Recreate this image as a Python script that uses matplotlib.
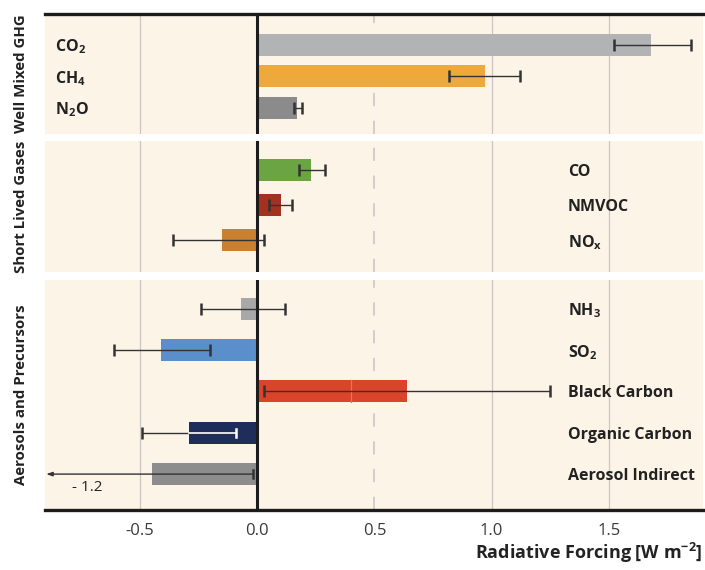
import matplotlib
matplotlib.use('Agg')
import matplotlib.pyplot as plt
import numpy as np

plt.rcParams['font.family'] = ['Open Sans', 'DejaVu Sans']
plt.rcParams['mathtext.fontset'] = 'custom'
plt.rcParams['mathtext.rm'] = 'Open Sans'
plt.rcParams['mathtext.bf'] = 'Open Sans:bold'
plt.rcParams['lines.scale_dashes'] = False

# well mixed greenhouse gases
ghg_names = [r'CO$_\mathbf{2}$', r'CH$_\mathbf{4}$', r'N$_\mathbf{2}$O']
ghg_vals = [1.68, 0.97, 0.17]
ghg_lo = [1.52, 0.82, 0.155]
ghg_hi = [1.85, 1.12, 0.19]
ghg_colors = ['#B2B3B5', '#EDA93C', '#8B8B8B']

# short lived gases
slg_names = ['CO', 'NMVOC', r'NO$_\mathbf{x}$']
slg_vals = [0.23, 0.10, -0.15]
slg_lo = [0.18, 0.05, -0.36]
slg_hi = [0.29, 0.15, 0.03]
slg_colors = ['#6BA443', '#A2311F', '#C98030']

# aerosols and precursors
aer_names = [r'NH$_\mathbf{3}$', r'SO$_\mathbf{2}$', 'Black Carbon', 'Organic Carbon', 'Aerosol Indirect']
aer_vals = [-0.07, -0.41, 0.64, -0.29, -0.45]
aer_lo = [-0.24, -0.61, 0.03, -0.49, -1.2]
aer_hi = [0.12, -0.20, 1.25, -0.09, -0.02]
aer_colors = ['#A8A8A8', '#5B8FCC', '#D9442A', '#1E2D5A', '#8D8D8D']
aer_white_err = [False, False, False, True, False]
bc_split = 0.40

xticks = [-0.5, 0.0, 0.5, 1.0, 1.5]
xticklabels = ['-0.5', '0.0', '0.5', '1.0', '1.5']
xmin, xmax = -0.905, 1.90

W, H = 705, 570
bg = '#FDF4E8'
errc = '#333333'

fig = plt.figure(figsize=(W / 100, H / 100), dpi=100)


def make_axes(top, bottom, c0, step, n):
    ax = fig.add_axes([45 / W, 1 - bottom / H, (702.7 - 45) / W, (bottom - top) / H])
    ax.set_facecolor(bg)
    ax.set_xlim(xmin, xmax)
    ax.set_ylim((bottom - c0) / step, (top - c0) / step)
    for s in ax.spines.values():
        s.set_visible(False)
    ax.tick_params(left=False, labelleft=False, bottom=False, labelbottom=False)
    for x in [-0.5, 1.0, 1.5]:
        ax.axvline(x, color='#CBC6C0', lw=0.9, zorder=1)
    ax.axvline(0.5, color='#D2CDC7', lw=1.4, ls=(0, (9.5, 10.5)), zorder=1)
    ax.axvline(0.0, color='#1C1C1C', lw=2.2, zorder=4)
    return ax, 22.0 / step


def draw_bars(ax, h, vals, lo, hi, colors):
    y = np.arange(len(vals))
    ax.barh(y, vals, height=h, color=colors, zorder=2)
    for yi, v, a, b in zip(y, vals, lo, hi):
        a = max(a, xmin)
        ax.errorbar([v], [yi], xerr=[[v - a], [b - v]], fmt='none', ecolor=errc,
                    elinewidth=1.0, capsize=4, capthick=1.8, zorder=3)
    return y


panel_specs = [
    (14, 134, 44.5, 31.5, ghg_names, ghg_vals, ghg_lo, ghg_hi, ghg_colors, 'Well Mixed GHG'),
    (141, 272, 170.5, 35.0, slg_names, slg_vals, slg_lo, slg_hi, slg_colors, 'Short Lived Gases'),
    (280, 510, 308.5, 41.4, aer_names, aer_vals, aer_lo, aer_hi, aer_colors, 'Aerosols and Precursors'),
]

axes = []
for i, (top, bot, c0, step, names, vals, lo, hi, colors, side) in enumerate(panel_specs):
    ax, h = make_axes(top, bot, c0, step, len(vals))
    axes.append(ax)
    y = np.arange(len(vals))
    if i == 2:
        # Aerosol Indirect: lower bound off the axis, drawn as an arrow
        draw_bars(ax, h, vals[:-1], lo[:-1], hi[:-1], colors[:-1])
        ax.barh(y[-1], vals[-1], height=h, color=colors[-1], zorder=2)
        ax.annotate('', xy=(xmin + 0.005, y[-1]), xytext=(hi[-1], y[-1]),
                    arrowprops=dict(arrowstyle='-|>,head_length=0.35,head_width=0.12',
                                    color=errc, lw=1.0, shrinkA=0, shrinkB=0), zorder=3)
        ax.plot([hi[-1]] * 2, [y[-1] - 0.1, y[-1] + 0.1], color=errc, lw=1.8, zorder=3)
        ax.text(-0.79, y[-1] + 0.32, '- 1.2', fontsize=11, color='#222222', va='center')
        # white inner segment of the error bar
        for yi, v, b, white in zip(y, vals, hi, aer_white_err):
            if white:
                ax.plot([v, b], [yi, yi], color='white', lw=1.2, zorder=3.5)
                ax.plot([b, b], [yi - 0.1, yi + 0.1], color='white', lw=1.8, zorder=3.5)
        # black carbon split
        bc = aer_names.index('Black Carbon')
        ax.plot([bc_split] * 2, [bc - h / 2, bc + h / 2], color='#E6735B', lw=0.9, zorder=2.5)
    else:
        draw_bars(ax, h, vals, lo, hi, colors)

    for yi, name in zip(y, names):
        lx = -0.862 if i == 0 else 1.325
        ax.text(lx, yi, name, fontsize=11.5, fontweight='bold', color='#222222',
                va='center_baseline', ha='left', zorder=5)

    fig.text(21 / W, 1 - (top + bot) / 2 / H, side, rotation=90, fontsize=10.8,
             fontweight='bold', color='#222222', ha='center', va='center')

axes[0].spines['top'].set_visible(True)
axes[0].spines['top'].set_linewidth(2.4)
axes[0].spines['top'].set_color('#1C1C1C')

ax3 = axes[2]
ax3.spines['bottom'].set_visible(True)
ax3.spines['bottom'].set_linewidth(2.4)
ax3.spines['bottom'].set_color('#1C1C1C')
ax3.tick_params(bottom=False, labelbottom=True, labelsize=12, labelcolor='#3A3A3A', pad=6)
ax3.set_xticks(xticks)
ax3.set_xticklabels(xticklabels)

fig.text(702 / W, 1 - 559 / H, r'Radiative Forcing [W m$^{\mathbf{-2}}$]', fontsize=13,
         fontweight='bold', color='#222222', ha='right', va='baseline')

fig.savefig('out.png', dpi=100, facecolor='white')
